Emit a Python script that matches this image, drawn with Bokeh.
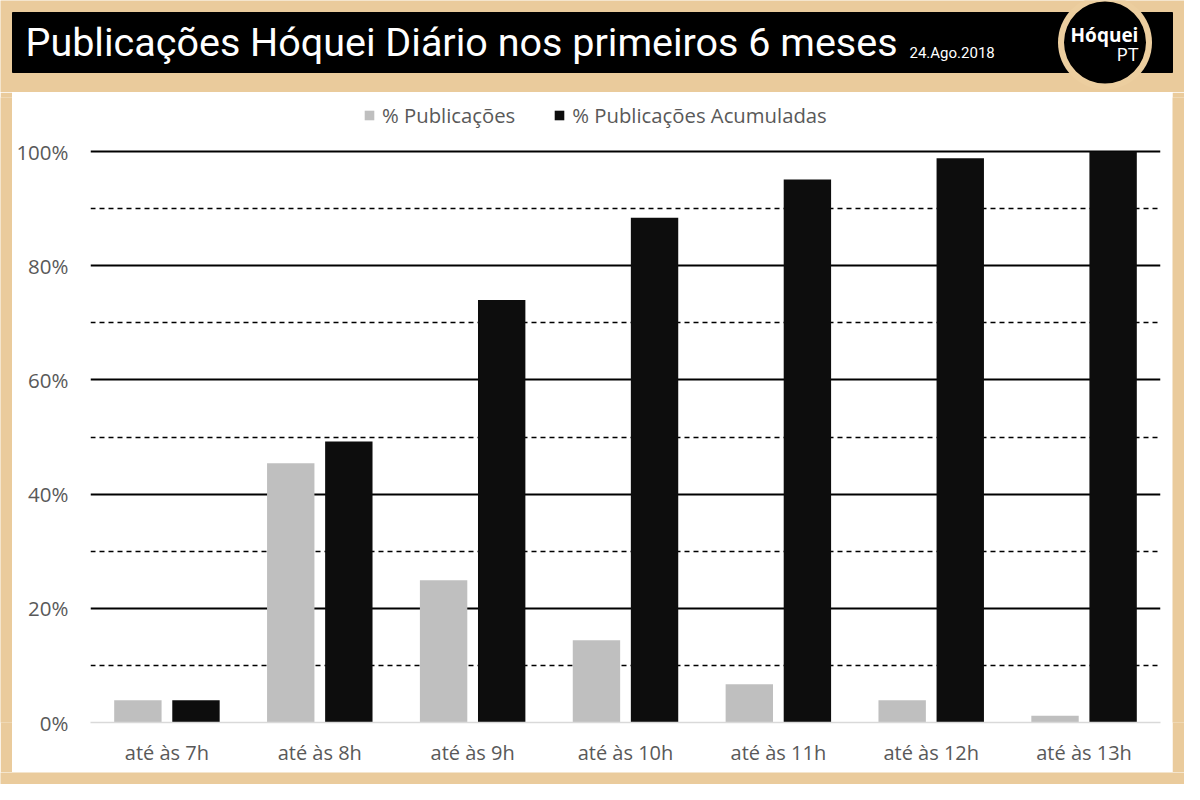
from bokeh.plotting import figure
from bokeh.models import (Range1d, FactorRange, FixedTicker, Grid, Legend, LegendItem,
                          ColumnDataSource, NumeralTickFormatter)
from bokeh.layouts import column, row
from bokeh.transform import dodge
from bokeh.core.properties import value
from bokeh.embed import file_html
from bokeh.resources import INLINE

# ---------------- data ----------------
categories = ["até às 7h", "até às 8h", "até às 9h", "até às 10h",
              "até às 11h", "até às 12h", "até às 13h"]
pct_publicacoes = [3.9, 45.4, 24.9, 14.4, 6.7, 3.9, 1.2]
pct_acumuladas = [3.9, 49.2, 74.0, 88.4, 95.1, 98.8, 100.0]
series_names = ["% Publicações", "% Publicações Acumuladas"]
major_ticks = [0, 20, 40, 60, 80, 100]
minor_ticks = [10, 30, 50, 70, 90]
title_text = "Publicações Hóquei Diário nos primeiros 6 meses"
date_text = "24.Ago.2018"

WOOD = "#eacb9c"
GREY = "#bfbfbf"
BLACK = "#0d0d0d"
TXT = "#595959"
FONT = "Open Sans"
TFONT = "Roboto"

# ---------------- header ----------------
hdr = figure(width=1184, height=92, x_range=Range1d(8, 1192), y_range=Range1d(100, 8),
             x_axis_type=None, y_axis_type=None, toolbar_location=None,
             output_backend="svg", min_border=0, outline_line_color=None)
hdr.border_fill_color = WOOD
hdr.background_fill_color = WOOD
hdr.grid.visible = False
hdr.quad(left=[20], right=[1180], top=[20], bottom=[80], color="black")
hdr.scatter(x=[1112.5], y=[50], size=94, marker="circle", fill_color="#ecce9f",
            line_color=None)
hdr.scatter(x=[1112.5], y=[50], size=82, marker="circle", fill_color="black",
            line_color=None)
hdr.text(x=[33], y=[50], text=[title_text], text_color="white",
         text_font=value(TFONT), text_font_size="39.5px",
         text_baseline="middle", text_align="left")
hdr.text(x=[917], y=[60], text=[date_text], text_color="white",
         text_font=value(TFONT), text_font_size="15px",
         text_baseline="middle", text_align="left")
hdr.text(x=[1112], y=[42], text=["Hóquei"], text_color="white",
         text_font=value(FONT), text_font_size="19px",
         text_font_style="bold", text_baseline="middle", text_align="center")
hdr.text(x=[1146], y=[61], text=["PT"], text_color="white",
         text_font=value(FONT), text_font_size="19px",
         text_baseline="middle", text_align="right")

# ---------------- chart ----------------
src = ColumnDataSource(dict(cat=categories, a=pct_publicacoes, b=pct_acumuladas))

p = figure(width=1160, height=680, x_range=FactorRange(*categories, range_padding=0),
           y_range=Range1d(0, (730 - 105) / 5.71), toolbar_location=None,
           output_backend="svg", min_border_left=78, min_border_right=12,
           min_border_top=5, min_border_bottom=50, outline_line_color=None)
p.x_range.factor_padding = 0
p.border_fill_color = "white"
p.background_fill_color = "white"

r1 = p.vbar(x=dodge("cat", -0.19, range=p.x_range), top="a", width=0.31, source=src,
            fill_color=GREY, line_color=None)
r2 = p.vbar(x=dodge("cat", 0.19, range=p.x_range), top="b", width=0.31, source=src,
            fill_color=BLACK, line_color=None)

p.xgrid.visible = False
p.ygrid.ticker = FixedTicker(ticks=major_ticks[1:])
p.ygrid.grid_line_color = "black"
p.ygrid.grid_line_width = 2.2
p.add_layout(Grid(dimension=1, ticker=FixedTicker(ticks=minor_ticks),
                  grid_line_color="black", grid_line_width=1.3,
                  grid_line_dash="5 4"))

p.yaxis.ticker = FixedTicker(ticks=major_ticks)
p.yaxis.formatter = NumeralTickFormatter(format="0")
p.yaxis.major_label_overrides = {t: f"{t}%" for t in major_ticks}
p.yaxis.axis_line_color = None
p.yaxis.major_tick_line_color = None
p.yaxis.minor_tick_line_color = None
p.yaxis.major_tick_out = 0
p.yaxis.major_label_standoff = 22
p.yaxis.major_label_text_font = FONT
p.yaxis.major_label_text_font_size = "20.5px"
p.yaxis.major_label_text_color = TXT

p.xaxis.axis_line_color = "#d9d9d9"
p.xaxis.axis_line_width = 1.5
p.xaxis.major_tick_line_color = None
p.xaxis.minor_tick_line_color = None
p.xaxis.major_tick_out = 0
p.xaxis.major_label_standoff = 16
p.xaxis.major_label_text_font = FONT
p.xaxis.major_label_text_font_size = "20px"
p.xaxis.major_label_text_color = TXT

legend = Legend(items=[LegendItem(label=series_names[0], renderers=[r1]),
                       LegendItem(label=series_names[1], renderers=[r2])],
                location=(273, 593), orientation="horizontal",
                border_line_color=None, background_fill_alpha=0,
                glyph_width=12, glyph_height=12, label_standoff=7, spacing=38,
                label_text_font=FONT, label_text_font_size="20.3px",
                label_text_color=TXT, margin=0, padding=8)
p.add_layout(legend)

def spacer(w, h):
    s = figure(width=w, height=h, x_axis_type=None, y_axis_type=None,
               toolbar_location=None, output_backend="svg", min_border=0,
               outline_line_color=None)
    s.border_fill_color = WOOD
    s.background_fill_color = WOOD
    s.grid.visible = False
    return s

layout = column(hdr, row(spacer(12, 680), p, spacer(12, 680)), spacer(1184, 12))

open("out.html", "w").write(file_html(layout, INLINE))
